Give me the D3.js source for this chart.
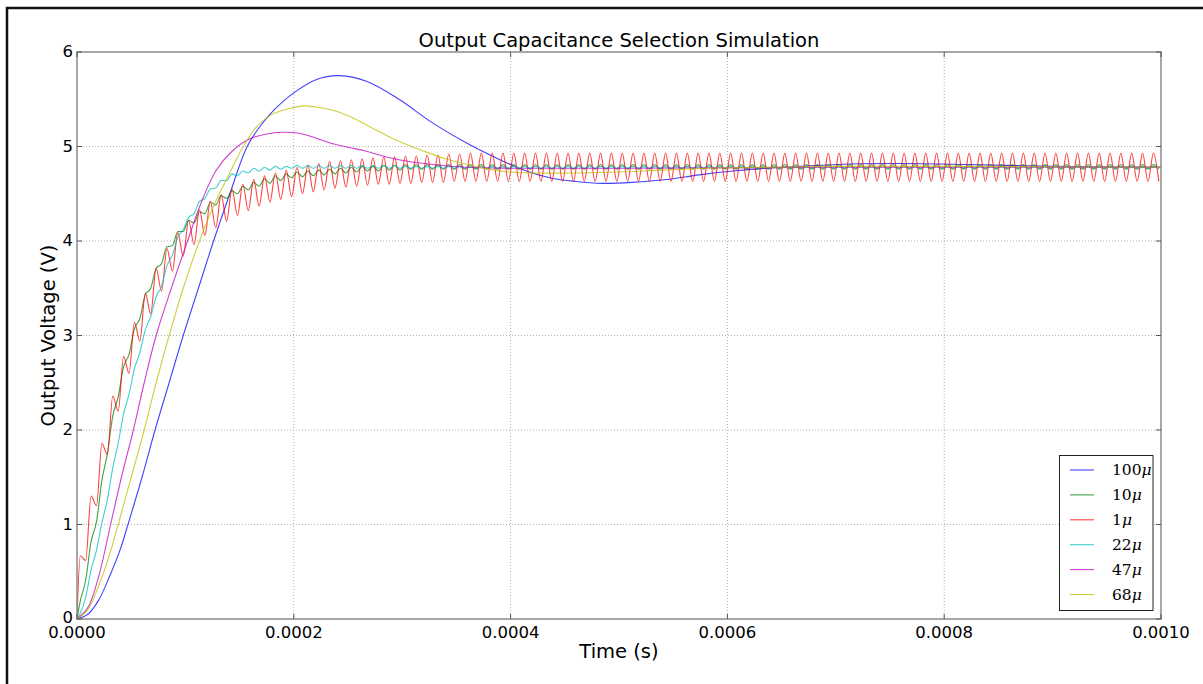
<!DOCTYPE html>
<html>
<head>
<meta charset="utf-8">
<script src="https://cdn.jsdelivr.net/npm/d3@7"></script>
<style>
  body { margin: 0; background: #fff; }
  svg { display: block; }
</style>
</head>
<body>
<svg id="chart" width="1203" height="684"></svg>
<script>
// ---- data -------------------------------------------------------------
// Ripple traces are sampled at every switching half-period (µs).
const rippleTimes = [0].concat(d3.range(3, 1000, 5));

// 1 µF output capacitor (µs grid above), volts
const v1u = [0,
  0.67,0.62, 1.30,1.20, 1.86,1.74, 2.36,2.20, 2.78,2.60, 3.14,2.94, 3.45,3.23, 3.71,3.47,
  3.92,3.68, 4.09,3.84, 4.22,3.96, 4.33,4.06, 4.42,4.14, 4.49,4.21, 4.55,4.27, 4.60,4.32,
  4.65,4.37, 4.69,4.41, 4.72,4.44, 4.75,4.47, 4.78,4.50, 4.80,4.52, 4.82,4.54, 4.84,4.56,
  4.85,4.57, 4.86,4.58, 4.87,4.59, 4.88,4.60, 4.89,4.60, 4.89,4.61, 4.90,4.61, 4.90,4.62,
  4.91,4.62, 4.91,4.62, 4.92,4.63, 4.92,4.63,
  4.93,4.63, 4.93,4.63, 4.93,4.63, 4.93,4.63, 4.93,4.63, 4.93,4.63, 4.93,4.63, 4.93,4.63,
  4.93,4.63, 4.93,4.63, 4.93,4.63, 4.93,4.63, 4.93,4.63, 4.93,4.63, 4.93,4.63, 4.93,4.63,
  4.93,4.63, 4.93,4.63, 4.93,4.63, 4.93,4.63, 4.93,4.63, 4.93,4.63, 4.93,4.63, 4.93,4.63,
  4.93,4.63, 4.93,4.63, 4.93,4.63, 4.93,4.63, 4.93,4.63, 4.93,4.63, 4.93,4.63, 4.93,4.63,
  4.93,4.63, 4.93,4.63, 4.93,4.63, 4.93,4.63, 4.93,4.63, 4.93,4.63, 4.93,4.63, 4.93,4.63,
  4.93,4.63, 4.93,4.63, 4.93,4.63, 4.93,4.63, 4.93,4.63, 4.93,4.63, 4.93,4.63, 4.93,4.63,
  4.93,4.63, 4.93,4.63, 4.93,4.63, 4.93,4.63, 4.93,4.63, 4.93,4.63, 4.93,4.63, 4.93,4.63,
  4.93,4.63, 4.93,4.63, 4.93,4.63, 4.93,4.63, 4.93,4.63, 4.93,4.63, 4.93,4.63, 4.93,4.63
];

// 10 µF output capacitor
const v10u = [0,
  0.19,0.41, 0.82,1.03, 1.47,1.75, 2.15,2.35, 2.67,2.80, 3.07,3.18, 3.43,3.50, 3.71,3.76,
  3.94,3.95, 4.10,4.10, 4.22,4.19, 4.31,4.29, 4.41,4.38, 4.48,4.45, 4.53,4.50, 4.58,4.54,
  4.62,4.58, 4.66,4.61, 4.69,4.64, 4.71,4.67, 4.73,4.68, 4.74,4.69, 4.75,4.70, 4.76,4.71,
  4.77,4.72, 4.78,4.73, 4.79,4.74, 4.79,4.74, 4.80,4.75, 4.80,4.75,
  4.81,4.76, 4.81,4.76, 4.81,4.76, 4.81,4.76, 4.81,4.76, 4.81,4.76, 4.81,4.76, 4.81,4.76, 4.81,4.76, 4.81,4.76,
  4.81,4.76, 4.81,4.76, 4.81,4.76, 4.81,4.76, 4.81,4.76, 4.81,4.76, 4.81,4.76, 4.81,4.76, 4.81,4.76, 4.81,4.76,
  4.81,4.76, 4.81,4.76, 4.81,4.76, 4.81,4.76, 4.81,4.76, 4.81,4.76, 4.81,4.76, 4.81,4.76, 4.81,4.76, 4.81,4.76,
  4.81,4.76, 4.81,4.76, 4.81,4.76, 4.81,4.76, 4.81,4.76, 4.81,4.76, 4.81,4.76, 4.81,4.76, 4.81,4.76, 4.81,4.76,
  4.81,4.76, 4.81,4.76, 4.81,4.76, 4.81,4.76, 4.81,4.76, 4.81,4.76, 4.81,4.76, 4.81,4.76, 4.81,4.76, 4.81,4.76,
  4.81,4.76, 4.81,4.76, 4.81,4.76, 4.81,4.76, 4.81,4.76, 4.81,4.76, 4.81,4.76, 4.81,4.76, 4.81,4.76, 4.81,4.76,
  4.81,4.76, 4.81,4.76, 4.81,4.76, 4.81,4.76, 4.81,4.76, 4.81,4.76, 4.81,4.76, 4.81,4.76, 4.81,4.76, 4.81,4.76
];

// 22 µF output capacitor
const v22u = [0,
  0.06,0.23, 0.52,0.73, 1.02,1.26, 1.60,1.86, 2.17,2.38, 2.65,2.82, 3.06,3.20, 3.41,3.52,
  3.74,3.85, 4.04,4.12, 4.25,4.29, 4.42,4.45, 4.55,4.56, 4.64,4.64, 4.71,4.69, 4.74,4.72,
  4.77,4.74, 4.78,4.75, 4.79,4.76, 4.79,4.77,
  4.80,4.77, 4.80,4.77, 4.80,4.77, 4.80,4.77, 4.80,4.77, 4.80,4.77, 4.80,4.77, 4.80,4.77, 4.80,4.77, 4.80,4.77,
  4.79,4.77, 4.79,4.77, 4.79,4.77, 4.79,4.77, 4.79,4.77, 4.79,4.77, 4.79,4.77, 4.79,4.77, 4.79,4.77, 4.79,4.77,
  4.79,4.77, 4.79,4.77, 4.79,4.77, 4.79,4.77, 4.79,4.77, 4.79,4.77, 4.79,4.77, 4.79,4.77, 4.79,4.77, 4.79,4.77,
  4.79,4.77, 4.79,4.77, 4.79,4.77, 4.79,4.77, 4.79,4.77, 4.79,4.77, 4.79,4.77, 4.79,4.77, 4.79,4.77, 4.79,4.77,
  4.79,4.77, 4.79,4.77, 4.79,4.77, 4.79,4.77, 4.79,4.77, 4.79,4.77, 4.79,4.77, 4.79,4.77, 4.79,4.77, 4.79,4.77,
  4.79,4.77, 4.79,4.77, 4.79,4.77, 4.79,4.77, 4.79,4.77, 4.79,4.77, 4.79,4.77, 4.79,4.77, 4.79,4.77, 4.79,4.77,
  4.79,4.77, 4.79,4.77, 4.79,4.77, 4.79,4.77, 4.79,4.77, 4.79,4.77, 4.79,4.77, 4.79,4.77, 4.79,4.77, 4.79,4.77,
  4.79,4.77, 4.79,4.77, 4.79,4.77, 4.79,4.77, 4.79,4.77, 4.79,4.77, 4.79,4.77, 4.79,4.77, 4.79,4.77, 4.79,4.77
];

// Larger capacitors: ripple is negligible, sampled at irregular times (µs)
const t47u = [0, 10, 20, 31, 41, 52, 62, 73, 87, 102, 113, 128, 143, 159, 174, 190, 205, 220, 236, 251, 267, 282, 297, 328, 359, 400, 500, 700, 1000];
const v47u = [0, 0.12, 0.45, 1.0, 1.5, 2.0, 2.5, 3.0, 3.5, 4.0, 4.36, 4.74, 4.95, 5.08, 5.13, 5.15, 5.14, 5.09, 5.03, 4.99, 4.95, 4.90, 4.86, 4.81, 4.78, 4.77, 4.77, 4.78, 4.78];

const t68u = [0, 10, 20, 30, 38, 50, 62, 73, 85, 98, 113, 128, 140, 152, 165, 180, 195, 210, 225, 240, 255, 270, 285, 300, 320, 340, 360, 380, 400, 420, 460, 500, 540, 580, 640, 700, 800, 1000];
const v68u = [0, 0.1, 0.35, 0.68, 1.0, 1.5, 2.0, 2.5, 3.0, 3.5, 4.0, 4.42, 4.70, 4.97, 5.20, 5.34, 5.40, 5.43, 5.41, 5.37, 5.30, 5.21, 5.12, 5.04, 4.95, 4.87, 4.81, 4.76, 4.73, 4.72, 4.72, 4.73, 4.75, 4.77, 4.78, 4.79, 4.79, 4.78];

const t100u = [0, 10, 20, 30, 40, 47, 60, 72, 85, 98, 112, 126, 141, 157, 170, 183, 199, 221, 242, 267, 297, 328, 359, 383, 410, 436, 460, 485, 512, 544, 574, 605, 636, 667, 713, 760, 820, 900, 1000];
const v100u = [0, 0.05, 0.2, 0.45, 0.74, 1.0, 1.5, 2.0, 2.5, 3.0, 3.5, 4.0, 4.5, 5.0, 5.23, 5.40, 5.56, 5.71, 5.75, 5.69, 5.50, 5.25, 5.04, 4.90, 4.76, 4.67, 4.63, 4.61, 4.62, 4.65, 4.70, 4.74, 4.77, 4.79, 4.815, 4.82, 4.81, 4.79, 4.78];

// Legend order and colours
const seriesNames = ["100", "10", "1", "22", "47", "68"];
const seriesColors = ["#0000ff", "#008000", "#ff0000", "#00bfbf", "#bf00bf", "#bfbf00"];

const xTicks = [0, 0.0002, 0.0004, 0.0006, 0.0008, 0.0010];
const yTicks = [0, 1, 2, 3, 4, 5, 6];

// ---- layout -------------------------------------------------------------
const svg = d3.select("#chart");
const plot = { left: 77, right: 1161, top: 52, bottom: 619 };

const x = d3.scaleLinear().domain([0, 0.001]).range([plot.left, plot.right]);
const y = d3.scaleLinear().domain([0, 6]).range([plot.bottom, plot.top]);

const us = t => t * 1e-6;
const pair = (ts, vs) => ts.map((t, i) => [us(t), vs[i]]).filter(d => d[1] !== undefined);

// ripple traces keep flat tangents at each extremum; the slow traces use a smooth spline
const rippleLine = d3.line().x(d => x(d[0])).y(d => y(d[1])).curve(d3.curveMonotoneX);
const smoothLine = d3.line().x(d => x(d[0])).y(d => y(d[1])).curve(d3.curveCatmullRom.alpha(0.5));

const series = [
  { data: pair(t100u, v100u), gen: smoothLine },
  { data: pair(rippleTimes, v10u), gen: rippleLine },
  { data: pair(rippleTimes, v1u), gen: rippleLine },
  { data: pair(rippleTimes, v22u), gen: rippleLine },
  { data: pair(t47u, v47u), gen: smoothLine },
  { data: pair(t68u, v68u), gen: smoothLine }
];

// outer figure frame
svg.append("path")
  .attr("d", "M7,684 L7,8 L1203,8")
  .attr("fill", "none").attr("stroke", "#111").attr("stroke-width", 2.5);

// grid
const grid = svg.append("g").attr("stroke", "#b0b0b0").attr("stroke-width", 1).attr("stroke-dasharray", "1,2");
xTicks.slice(1, -1).forEach(t => {
  grid.append("line").attr("x1", x(t)).attr("x2", x(t)).attr("y1", plot.top).attr("y2", plot.bottom);
});
yTicks.slice(1, -1).forEach(v => {
  grid.append("line").attr("x1", plot.left).attr("x2", plot.right).attr("y1", y(v)).attr("y2", y(v));
});

// traces
svg.append("clipPath").attr("id", "plotclip").append("rect")
  .attr("x", plot.left).attr("y", plot.top)
  .attr("width", plot.right - plot.left).attr("height", plot.bottom - plot.top);

const traces = svg.append("g").attr("clip-path", "url(#plotclip)");
series.forEach((s, i) => {
  traces.append("path")
    .datum(s.data)
    .attr("d", s.gen)
    .attr("fill", "none")
    .attr("stroke", seriesColors[i])
    .attr("stroke-width", 1.1)
    .attr("stroke-opacity", 0.75);
});

// axes frame
svg.append("rect")
  .attr("x", plot.left).attr("y", plot.top)
  .attr("width", plot.right - plot.left).attr("height", plot.bottom - plot.top)
  .attr("fill", "none").attr("stroke", "#8a8a8a").attr("stroke-width", 1.5);

// inward ticks on all four sides
const ticks = svg.append("g").attr("stroke", "#555").attr("stroke-width", 1);
const tickLen = 5;
xTicks.forEach(t => {
  ticks.append("line").attr("x1", x(t)).attr("x2", x(t)).attr("y1", plot.bottom).attr("y2", plot.bottom - tickLen);
  ticks.append("line").attr("x1", x(t)).attr("x2", x(t)).attr("y1", plot.top).attr("y2", plot.top + tickLen);
});
yTicks.forEach(v => {
  ticks.append("line").attr("x1", plot.left).attr("x2", plot.left + tickLen).attr("y1", y(v)).attr("y2", y(v));
  ticks.append("line").attr("x1", plot.right).attr("x2", plot.right - tickLen).attr("y1", y(v)).attr("y2", y(v));
});

// tick labels
const fmtX = d3.format(".4f");
const labels = svg.append("g")
  .attr("font-family", "'DejaVu Sans', sans-serif")
  .attr("font-size", 16.5).attr("fill", "#000");
xTicks.forEach(t => {
  labels.append("text").attr("x", x(t)).attr("y", plot.bottom + 18.5)
    .attr("text-anchor", "middle").text(fmtX(t));
});
yTicks.forEach(v => {
  labels.append("text").attr("x", plot.left - 4).attr("y", y(v) + (v === 0 ? 3.5 : 5))
    .attr("text-anchor", "end").text(v);
});

// titles
const titleFont = "'DejaVu Sans', sans-serif";
svg.append("text").attr("x", (plot.left + plot.right) / 2).attr("y", 47)
  .attr("text-anchor", "middle").attr("font-family", titleFont).attr("font-size", 19.5)
  .text("Output Capacitance Selection Simulation");
svg.append("text").attr("x", (plot.left + plot.right) / 2).attr("y", 658)
  .attr("text-anchor", "middle").attr("font-family", titleFont).attr("font-size", 19.5)
  .text("Time (s)");
svg.append("text")
  .attr("transform", `translate(55,${(plot.top + plot.bottom) / 2}) rotate(-90)`)
  .attr("text-anchor", "middle").attr("font-family", titleFont).attr("font-size", 19.5)
  .text("Output Voltage (V)");

// legend
const legend = svg.append("g");
legend.append("rect")
  .attr("x", 1059.5).attr("y", 455.5).attr("width", 93.5).attr("height", 155)
  .attr("fill", "#fff").attr("stroke", "#222").attr("stroke-width", 1);
seriesNames.forEach((name, i) => {
  const ly = 470 + i * 24.9;
  legend.append("line")
    .attr("x1", 1070).attr("x2", 1094).attr("y1", ly).attr("y2", ly)
    .attr("stroke", seriesColors[i]).attr("stroke-width", 1.1).attr("stroke-opacity", 0.75);
  const txt = legend.append("text")
    .attr("x", 1112).attr("y", ly + 5)
    .attr("font-family", "'DejaVu Serif', serif").attr("font-size", 15.5);
  txt.append("tspan").text(name);
  txt.append("tspan").attr("font-style", "italic").text("\u03bc");
});
</script>
</body>
</html>
